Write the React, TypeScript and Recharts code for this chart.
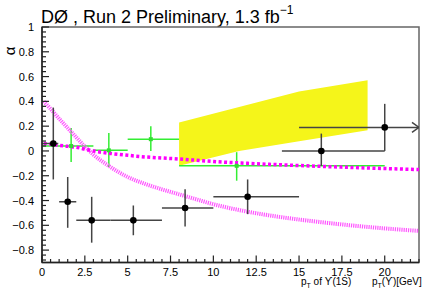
import {
  ComposedChart,
  Line,
  Area,
  Scatter,
  ErrorBar,
  XAxis,
  YAxis,
  ReferenceArea,
} from "recharts";

// D0 Run 2 points (black)
const d0X = [0.66, 1.5, 2.9, 5.33, 8.35, 12.0, 16.3, 20.0];
const d0Y = [0.06, -0.41, -0.56, -0.56, -0.46, -0.37, 0.0, 0.19];
const d0XLo = [0, 1, 2, 4, 7, 10, 14, 15];
const d0XHi = [0.95, 2, 4, 7, 10, 15, 20, 22];
const d0YLo = [-0.23, -0.62, -0.74, -0.68, -0.61, -0.51, -0.12, 0.0];
const d0YHi = [0.35, -0.21, -0.37, -0.44, -0.31, -0.23, 0.14, 0.38];

// CDF points (green)
const cdfX = [1.7, 3.9, 6.35, 11.36];
const cdfY = [0.04, 0.005, 0.095, -0.12];
const cdfXLo = [0, 3, 5, 8];
const cdfXHi = [3, 5, 8, 20];
const cdfYLo = [-0.09, -0.13, 0.0, -0.24];
const cdfYHi = [0.185, 0.145, 0.2, -0.01];

// yellow prediction band
const bandX = [8, 11.5, 15, 19];
const bandLo = [-0.12, 0.0, 0.078, 0.167];
const bandHi = [0.23, 0.355, 0.48, 0.57];

// magenta model curves
const curveX = [0.1, 0.5, 1, 1.5, 2, 2.5, 3, 4, 5, 6, 7, 8, 9, 10, 12, 14, 16, 18, 20, 22];
const curveSteep = [0.4, 0.34, 0.26, 0.185, 0.11, 0.035, -0.03, -0.13, -0.21, -0.265, -0.31, -0.35, -0.39, -0.43, -0.49, -0.535, -0.57, -0.6, -0.625, -0.645];
const curveFlat = [0.06, 0.055, 0.045, 0.037, 0.03, 0.015, 0.0, -0.02, -0.035, -0.048, -0.057, -0.065, -0.075, -0.085, -0.1, -0.112, -0.123, -0.133, -0.142, -0.15];

const xMajor = [0, 2.5, 5, 7.5, 10, 12.5, 15, 17.5, 20];
const yMajor = [-0.8, -0.6, -0.4, -0.2, 0, 0.2, 0.4, 0.6, 0.8, 1];

const xTicks: number[] = [];
for (let i = 0; i <= 44; i++) xTicks.push(i * 0.5);
const yTicks: number[] = [];
for (let i = -22; i <= 25; i++) yTicks.push(Math.round(i * 4) / 100);

const FONT = "'Liberation Sans', Arial, Helvetica, sans-serif";

const d0Data = d0X.map((x, i) => ({
  x,
  y: d0Y[i],
  ex: [x - d0XLo[i], d0XHi[i] - x],
  ey: [d0Y[i] - d0YLo[i], d0YHi[i] - d0Y[i]],
}));
const cdfData = cdfX.map((x, i) => ({
  x,
  y: cdfY[i],
  ex: [x - cdfXLo[i], cdfXHi[i] - x],
  ey: [cdfY[i] - cdfYLo[i], cdfYHi[i] - cdfY[i]],
}));
const bandData = bandX.map((x, i) => ({ x, range: [bandLo[i], bandHi[i]] }));
const curveData = curveX.map((x, i) => ({ x, a: curveSteep[i], b: curveFlat[i] }));
const arrowData = [{ x: d0XHi[7], y: d0Y[7] }];

const isMajor = (v: number, list: number[]) => list.some((m) => Math.abs(m - v) < 1e-6);
const fmt = (v: number) => (v < 0 ? "\u2212" + String(Math.abs(v)) : String(v));

const XTick = (props: any) => {
  const { x, y, payload } = props;
  const major = isMajor(payload.value, xMajor);
  return (
    <g>
      <line x1={x} x2={x} y1={y} y2={y - (major ? 7 : 3.5)} stroke="#222" strokeWidth={1.2} />
      {major && (
        <text x={x} y={y + 13} textAnchor="middle" fontSize={11} fontFamily={FONT} fill="#000">
          {fmt(payload.value)}
        </text>
      )}
    </g>
  );
};

const YTick = (props: any) => {
  const { x, y, payload } = props;
  const major = isMajor(payload.value, yMajor);
  return (
    <g>
      <line x1={x} x2={x + (major ? 7 : 4)} y1={y} y2={y} stroke="#222" strokeWidth={1.2} />
      {major && (
        <text x={x - 8} y={y + 4} textAnchor="end" fontSize={11} fontFamily={FONT} fill="#000">
          {fmt(payload.value)}
        </text>
      )}
    </g>
  );
};

const Dot = (props: any) => <circle cx={props.cx} cy={props.cy} r={3.3} fill="#000" />;
const Square = (props: any) => (
  <rect x={props.cx - 2} y={props.cy - 2} width={4} height={4} fill="#33dd33" />
);
const ArrowHead = (props: any) => (
  <polyline
    points={`${props.cx - 7},${props.cy - 5} ${props.cx},${props.cy} ${props.cx - 7},${props.cy + 5}`}
    fill="none"
    stroke="#444"
    strokeWidth={1.5}
  />
);

export default function App() {
  return (
    <div style={{ position: "absolute", left: 0, top: 0, width: 422, height: 291, background: "#fff", fontFamily: FONT }}>
      <div style={{ position: "absolute", left: 41, top: 0, fontSize: 18, lineHeight: "24px", whiteSpace: "nowrap" }}>
        DØ , Run 2 Preliminary, 1.3 fb
        <sup style={{ fontSize: 12, position: "relative", top: -2 }}>{"\u22121"}</sup>
      </div>
      <span
        style={{
          position: "absolute",
          left: 6,
          top: 43,
          fontSize: 15,
          lineHeight: "16px",
          display: "inline-block",
          transform: "rotate(-90deg)",
        }}
      >
        α
      </span>
      <div style={{ position: "absolute", left: 301, top: 276, fontSize: 10, whiteSpace: "nowrap" }}>
        p<sub style={{ fontSize: 7 }}>T</sub> of ϒ(1S)
      </div>
      <div style={{ position: "absolute", left: 372, top: 276, fontSize: 10, whiteSpace: "nowrap" }}>
        p<sub style={{ fontSize: 7 }}>T</sub>(ϒ)[GeV]
      </div>
      <ComposedChart width={422} height={291} margin={{ top: 27, right: 3, bottom: 0.5, left: 0 }}>
        <XAxis
          type="number"
          dataKey="x"
          domain={[0, 22]}
          ticks={xTicks}
          interval={0}
          allowDataOverflow
          height={28}
          tickSize={0}
          tickMargin={0}
          tickLine={false}
          axisLine={{ stroke: "#222", strokeWidth: 1.5 }}
          tick={XTick}
        />
        <YAxis
          type="number"
          dataKey="y"
          domain={[-0.9, 1]}
          ticks={yTicks}
          interval={0}
          allowDataOverflow
          width={42}
          tickSize={0}
          tickMargin={0}
          tickLine={false}
          axisLine={{ stroke: "#222", strokeWidth: 1.5 }}
          tick={YTick}
        />
        <ReferenceArea x1={0} x2={22} y1={-0.9} y2={1} fill="none" stroke="#666" strokeWidth={1.5} ifOverflow="visible" />
        <Area
          data={bandData}
          dataKey="range"
          type="linear"
          stroke="none"
          fill="#f5f51a"
          fillOpacity={1}
          isAnimationActive={false}
        />
        <Scatter data={cdfData} shape={<Square />} isAnimationActive={false}>
          <ErrorBar dataKey="ex" direction="x" width={0} stroke="#33ee33" strokeWidth={1.5} />
          <ErrorBar dataKey="ey" direction="y" width={0} stroke="#33ee33" strokeWidth={1.5} />
        </Scatter>
        <Line
          data={curveData}
          dataKey="a"
          type="monotone"
          stroke="#ff55ff"
          strokeWidth={4}
          strokeDasharray="1.2 1"
          dot={false}
          isAnimationActive={false}
        />
        <Line
          data={curveData}
          dataKey="b"
          type="monotone"
          stroke="#ff00ff"
          strokeWidth={3.5}
          strokeDasharray="3 2.5"
          dot={false}
          isAnimationActive={false}
        />
        <Scatter data={d0Data} shape={<Dot />} isAnimationActive={false}>
          <ErrorBar dataKey="ex" direction="x" width={0} stroke="#444" strokeWidth={1.5} />
          <ErrorBar dataKey="ey" direction="y" width={0} stroke="#444" strokeWidth={1.5} />
        </Scatter>
        <Scatter data={arrowData} shape={<ArrowHead />} isAnimationActive={false} />
      </ComposedChart>
    </div>
  );
}
